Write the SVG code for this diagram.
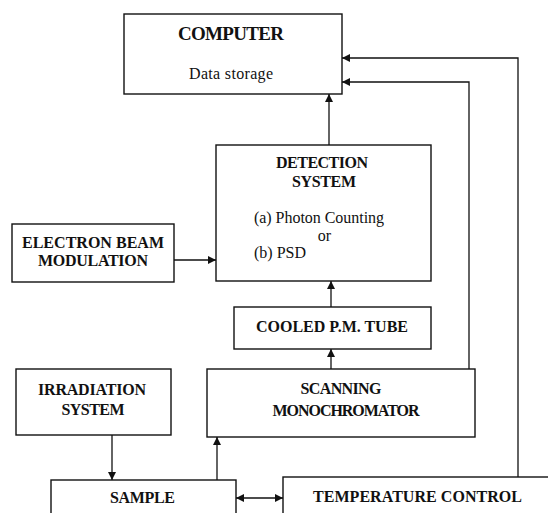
<svg xmlns="http://www.w3.org/2000/svg" width="548" height="513" viewBox="0 0 548 513">
<style>
.box{fill:#fff;stroke:#111;stroke-width:1.4}
.b{font-family:"Liberation Serif","Times New Roman",serif;font-weight:bold;font-size:16px;fill:#111}
.r{font-family:"Liberation Serif","Times New Roman",serif;font-size:16px;fill:#111}
.big{font-size:19px}
.ln{fill:none;stroke:#111;stroke-width:1.3}
</style>
<defs>
<marker id="ah" viewBox="0 0 10 10" refX="10" refY="5" markerWidth="8" markerHeight="8" markerUnits="userSpaceOnUse" orient="auto">
<path d="M0,0 L10,5 L0,10 z" fill="#111"/>
</marker>
<marker id="as" viewBox="0 0 10 10" refX="0" refY="5" markerWidth="8" markerHeight="8" markerUnits="userSpaceOnUse" orient="auto">
<path d="M10,0 L0,5 L10,10 z" fill="#111"/>
</marker>
</defs>
<rect width="548" height="513" fill="#fff"/>
<g id="connectors">
<line class="ln" x1="329" y1="145" x2="329" y2="94" marker-end="url(#ah)"/>
<line class="ln" x1="174" y1="260" x2="216" y2="260" marker-end="url(#ah)"/>
<line class="ln" x1="331" y1="307" x2="331" y2="281" marker-end="url(#ah)"/>
<line class="ln" x1="331" y1="369" x2="331" y2="349" marker-end="url(#ah)"/>
<polyline class="ln" points="469,369 469,82 342,82" marker-end="url(#ah)"/>
<polyline class="ln" points="518,477 518,58 342,58" marker-end="url(#ah)"/>
<line class="ln" x1="112" y1="435" x2="112" y2="480" marker-end="url(#ah)"/>
<line class="ln" x1="217" y1="480" x2="217" y2="437" marker-end="url(#ah)"/>
<line class="ln" x1="236" y1="498" x2="283" y2="498" marker-start="url(#as)" marker-end="url(#ah)"/>
</g>
<g id="computer">
<rect class="box" x="124" y="14" width="218" height="80"/>
<text class="b big" x="231" y="40" text-anchor="middle" textLength="106">COMPUTER</text>
<text class="r" x="231" y="79" text-anchor="middle" textLength="84">Data storage</text>
</g>
<g id="detection">
<rect class="box" x="216" y="145" width="215" height="136"/>
<text class="b" x="322" y="168" text-anchor="middle" textLength="92">DETECTION</text>
<text class="b" x="324" y="187" text-anchor="middle" textLength="64">SYSTEM</text>
<text class="r" x="254" y="223" textLength="130">(a) Photon Counting</text>
<text class="r" x="324.5" y="241" text-anchor="middle">or</text>
<text class="r" x="254" y="258" textLength="52">(b) PSD</text>
</g>
<g id="electron-beam">
<rect class="box" x="12" y="224" width="162" height="58"/>
<text class="b" x="93" y="248" text-anchor="middle" textLength="142">ELECTRON  BEAM</text>
<text class="b" x="93" y="266" text-anchor="middle" textLength="110">MODULATION</text>
</g>
<g id="cooled-pm-tube">
<rect class="box" x="234" y="307" width="197" height="42"/>
<text class="b" x="332" y="332" text-anchor="middle" textLength="152">COOLED P.M. TUBE</text>
</g>
<g id="scanning-monochromator">
<rect class="box" x="207" y="369" width="268" height="68"/>
<text class="b" x="341" y="394" text-anchor="middle" textLength="81">SCANNING</text>
<text class="b" x="346" y="416" text-anchor="middle" textLength="147">MONOCHROMATOR</text>
</g>
<g id="irradiation">
<rect class="box" x="16" y="369" width="155" height="66"/>
<text class="b" x="92" y="395" text-anchor="middle" textLength="108">IRRADIATION</text>
<text class="b" x="93" y="415" text-anchor="middle" textLength="63">SYSTEM</text>
</g>
<g id="sample">
<rect class="box" x="51" y="480" width="185" height="60"/>
<text class="b" x="142.5" y="503" text-anchor="middle" textLength="65">SAMPLE</text>
</g>
<g id="temperature-control">
<rect class="box" x="283" y="477" width="280" height="60"/>
<text class="b" x="417.5" y="502" text-anchor="middle" textLength="209">TEMPERATURE  CONTROL</text>
</g>
</svg>
